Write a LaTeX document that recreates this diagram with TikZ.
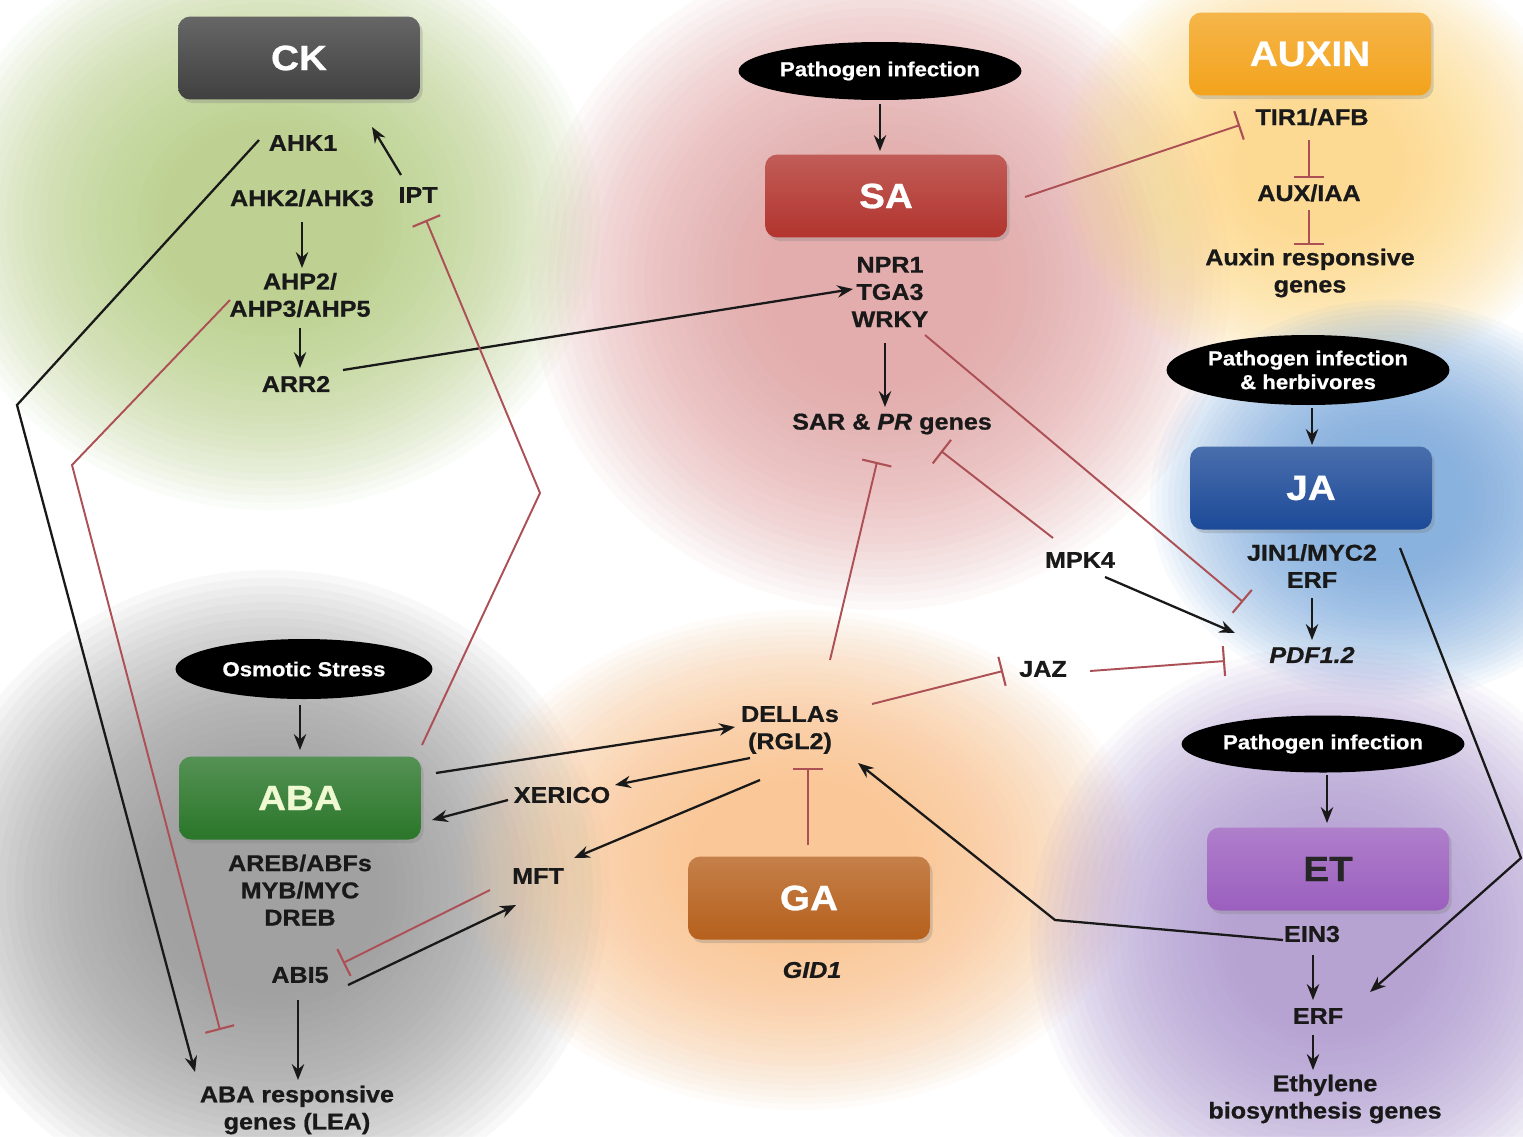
\documentclass[tikz,border=0pt]{standalone}
\usepackage{fontspec}
\setmainfont[FakeStretch=1.1, BoldFeatures={FakeBold=0.8}, BoldItalicFeatures={FakeBold=0.8}]{Liberation Sans}
\usetikzlibrary{arrows.meta,shapes.geometric,calc,shadows}
\definecolor{inhc}{RGB}{172,80,86}
\definecolor{ckc}{RGB}{64,64,64}
\definecolor{sac}{RGB}{178,52,46}
\definecolor{auxc}{RGB}{243,163,28}
\definecolor{jac}{RGB}{28,74,152}
\definecolor{etc}{RGB}{155,95,190}
\definecolor{gac}{RGB}{182,96,28}
\definecolor{abac}{RGB}{42,118,42}
\definecolor{bgreen}{RGB}{180,206,128}
\definecolor{bpink}{RGB}{228,160,160}
\definecolor{byellow}{RGB}{253,218,130}
\definecolor{bblue}{RGB}{115,165,222}
\definecolor{bpurple}{RGB}{172,148,208}
\definecolor{borange}{RGB}{250,192,135}
\definecolor{bgray}{RGB}{145,145,145}
\newcommand\softblob[5]{%
  \foreach \k in {0,...,27}{%
    \fill[#5, fill opacity=0.055] (#1,#2) ellipse ({#3*(1-0.025*\k)} and {#4*(1-0.025*\k)});
  }}
\begin{document}
\begin{tikzpicture}[x=0.02cm, y=-0.02cm,
  hbox/.style={rounded corners=7pt, minimum width=4.84cm, minimum height=1.66cm, inner sep=0pt,
    font=\bfseries\fontsize{20}{22}\selectfont, text=white,
    top color=#1!80!white, bottom color=#1,
    drop shadow={opacity=0.3, shadow xshift=1.5pt, shadow yshift=-2pt}},
  stim/.style={ellipse, fill=black, text=white, inner sep=0pt, align=center,
    font=\bfseries\fontsize{11.5}{13.5}\selectfont},
  lbl/.style={font=\bfseries\fontsize{13}{15.5}\selectfont, align=center, inner sep=1pt, text=black!90},
  arr/.style={draw=black!90, line width=1.3pt, -{Stealth[length=9pt,width=7pt]}},
  inh/.style={draw=inhc, line width=1.1pt, -{Bar[width=17pt,line width=1.2pt]}}]
\useasboundingbox (0,0) rectangle (1523,1136);
\fill[white] (0,0) rectangle (1523,1136);
% background blobs
\softblob{880}{280}{350}{330}{bpink}
\softblob{270}{220}{330}{290}{bgreen}
\softblob{1320}{165}{260}{220}{byellow}
\softblob{270}{890}{340}{320}{bgray}
\softblob{800}{860}{340}{250}{borange}
\softblob{1390}{500}{240}{200}{bblue}
\softblob{1330}{935}{300}{290}{bpurple}
% hormone boxes
\node[hbox=ckc] (ck) at (299,58) {CK};
\node[hbox=sac] (sa) at (886,196) {SA};
\node[hbox=auxc] (auxin) at (1310,54) {AUXIN};
\node[hbox=jac] (ja) at (1311,488) {JA};
\node[hbox=etc, text=black!85] (et) at (1328,869) {ET};
\node[hbox=gac] (ga) at (809,898) {GA};
\node[hbox=abac, text={rgb,255:red,240;green,250;blue,210}] (aba) at (300,798) {ABA};
% stimuli
\node[stim, minimum width=5.1cm, minimum height=1.16cm] (pinf1) at (880,71) {Pathogen infection};
\node[stim, minimum width=5.14cm, minimum height=1.2cm] (osm) at (304,669) {Osmotic Stress};
\node[stim, minimum width=5.12cm, minimum height=1.4cm] (pinfh) at (1308,370) {Pathogen infection\\\& herbivores};
\node[stim, minimum width=5.26cm, minimum height=1.14cm] (pinf2) at (1323,744) {Pathogen infection};
% labels
\node[lbl] (ahk1) at (303,143) {AHK1};
\node[lbl] (ipt) at (418,195) {IPT};
\node[lbl] (ahk23) at (302,198) {AHK2/AHK3};
\node[lbl] (ahp) at (300,295) {AHP2/\\AHP3/AHP5};
\node[lbl] (arr2) at (296,384) {ARR2};
\node[lbl] (npr) at (890,292) {NPR1\\TGA3\\WRKY};
\node[lbl] (sar) at (892,424) {SAR \& \textit{PR} genes};
\node[lbl] (tir) at (1312,117) {TIR1/AFB};
\node[lbl] (auxiaa) at (1309,193) {AUX/IAA};
\node[lbl] (auxresp) at (1310,273) {Auxin responsive\\genes};
\node[lbl] (jin) at (1312,566) {JIN1/MYC2\\ERF};
\node[lbl] (pdf) at (1312,655) {\textit{PDF1.2}};
\node[lbl] (mpk4) at (1080,560) {MPK4};
\node[lbl] (jaz) at (1043,669) {JAZ};
\node[lbl] (della) at (790,730) {DELLAs\\(RGL2)};
\node[lbl] (xerico) at (562,795) {XERICO};
\node[lbl] (mft) at (538,876) {MFT};
\node[lbl] (areb) at (300,890) {AREB/ABFs\\MYB/MYC\\DREB};
\node[lbl] (abi5) at (300,975) {ABI5};
\node[lbl] (abaresp) at (297,1110) {ABA responsive\\genes (LEA)};
\node[lbl] (gid1) at (812,970) {\textit{GID1}};
\node[lbl] (ein3) at (1312,934) {EIN3};
\node[lbl] (erf2) at (1318,1016) {ERF};
\node[lbl] (ethyl) at (1325,1099) {Ethylene\\biosynthesis genes};
% CK module
\draw[arr] ($(ipt)+(-17,-20)$) -- ($(ck)+(73,69)$);
\draw[arr] ($(ahk23)+(0,24)$) -- ($(ahp)+(2,-27)$);
\draw[arr] ($(ahp)+(0,33)$) -- ($(arr2)+(4,-16)$);
\draw[arr] ($(arr2)+(47,-14)$) -- ($(npr)+(-37,-3)$);
\draw[arr] ($(ahk1)+(-44,-3)$) -- (17,405) -- ($(abaresp)+(-102,-38)$);
\draw[inh] ($(ahp)+(-70,5)$) -- (72,465) -- ($(abaresp)+(-77,-80)$);
\draw[inh] ($(aba)+(122,-53)$) -- (540,493) -- ($(ipt)+(8,25)$);
% SA module
\draw[arr] ($(pinf1)+(0,33)$) -- ($(sa)+(-6,-45)$);
\draw[inh] ($(sa)+(139,1)$) -- ($(tir)+(-72,8)$);
\draw[arr] ($(npr)+(-5,51)$) -- ($(sar)+(-7,-17)$);
\draw[inh] ($(npr)+(35,43)$) -- ($(pdf)+(-69,-53)$);
\draw[inh] ($(mpk4)+(-27,-22)$) -- ($(sar)+(49,27)$);
\draw[arr] ($(mpk4)+(25,17)$) -- ($(pdf)+(-77,-22)$);
% AUXIN module
\draw[inh] ($(tir)+(-3,23)$) -- ($(auxiaa)+(0,-15)$);
\draw[inh] ($(auxiaa)+(0,17)$) -- ($(auxresp)+(-1,-28)$);
% JA module
\draw[arr] ($(pinfh)+(4,38)$) -- ($(ja)+(1,-43)$);
\draw[arr] ($(jin)+(0,32)$) -- ($(pdf)+(0,-15)$);
\draw[arr] ($(ja)+(89,60)$) -- (1521,858) -- ($(erf2)+(52,-24)$);
% DELLA / GA module
\draw[inh] ($(della)+(40,-70)$) -- ($(sar)+(-15,38)$);
\draw[inh] ($(della)+(82,-26)$) -- ($(jaz)+(-40,2)$);
\draw[inh] ($(jaz)+(47,2)$) -- ($(pdf)+(-87,6)$);
\draw[inh] ($(ga)+(-1,-53)$) -- ($(della)+(18,38)$);
% ET module
\draw[arr] ($(pinf2)+(4,31)$) -- ($(et)+(-1,-46)$);
\draw[arr] ($(ein3)+(-29,6)$) -- (1055,920) -- ($(della)+(68,33)$);
\draw[arr] ($(ein3)+(1,21)$) -- ($(erf2)+(-5,-16)$);
\draw[arr] ($(erf2)+(-5,19)$) -- ($(ethyl)+(-12,-29)$);
% ABA module
\draw[arr] ($(osm)+(-4,36)$) -- ($(aba)+(0,-48)$);
\draw[arr] ($(aba)+(136,-25)$) -- ($(della)+(-55,-3)$);
\draw[arr] ($(della)+(-40,28)$) -- ($(xerico)+(53,-10)$);
\draw[arr] ($(xerico)+(-54,5)$) -- ($(aba)+(132,22)$);
\draw[arr] ($(della)+(-30,50)$) -- ($(mft)+(36,-18)$);
\draw[inh] ($(mft)+(-48,14)$) -- ($(abi5)+(43,-12)$);
\draw[arr] ($(abi5)+(48,10)$) -- ($(mft)+(-22,29)$);
\draw[arr] ($(abi5)+(-2,25)$) -- ($(abaresp)+(1,-30)$);
\end{tikzpicture}
\end{document}
